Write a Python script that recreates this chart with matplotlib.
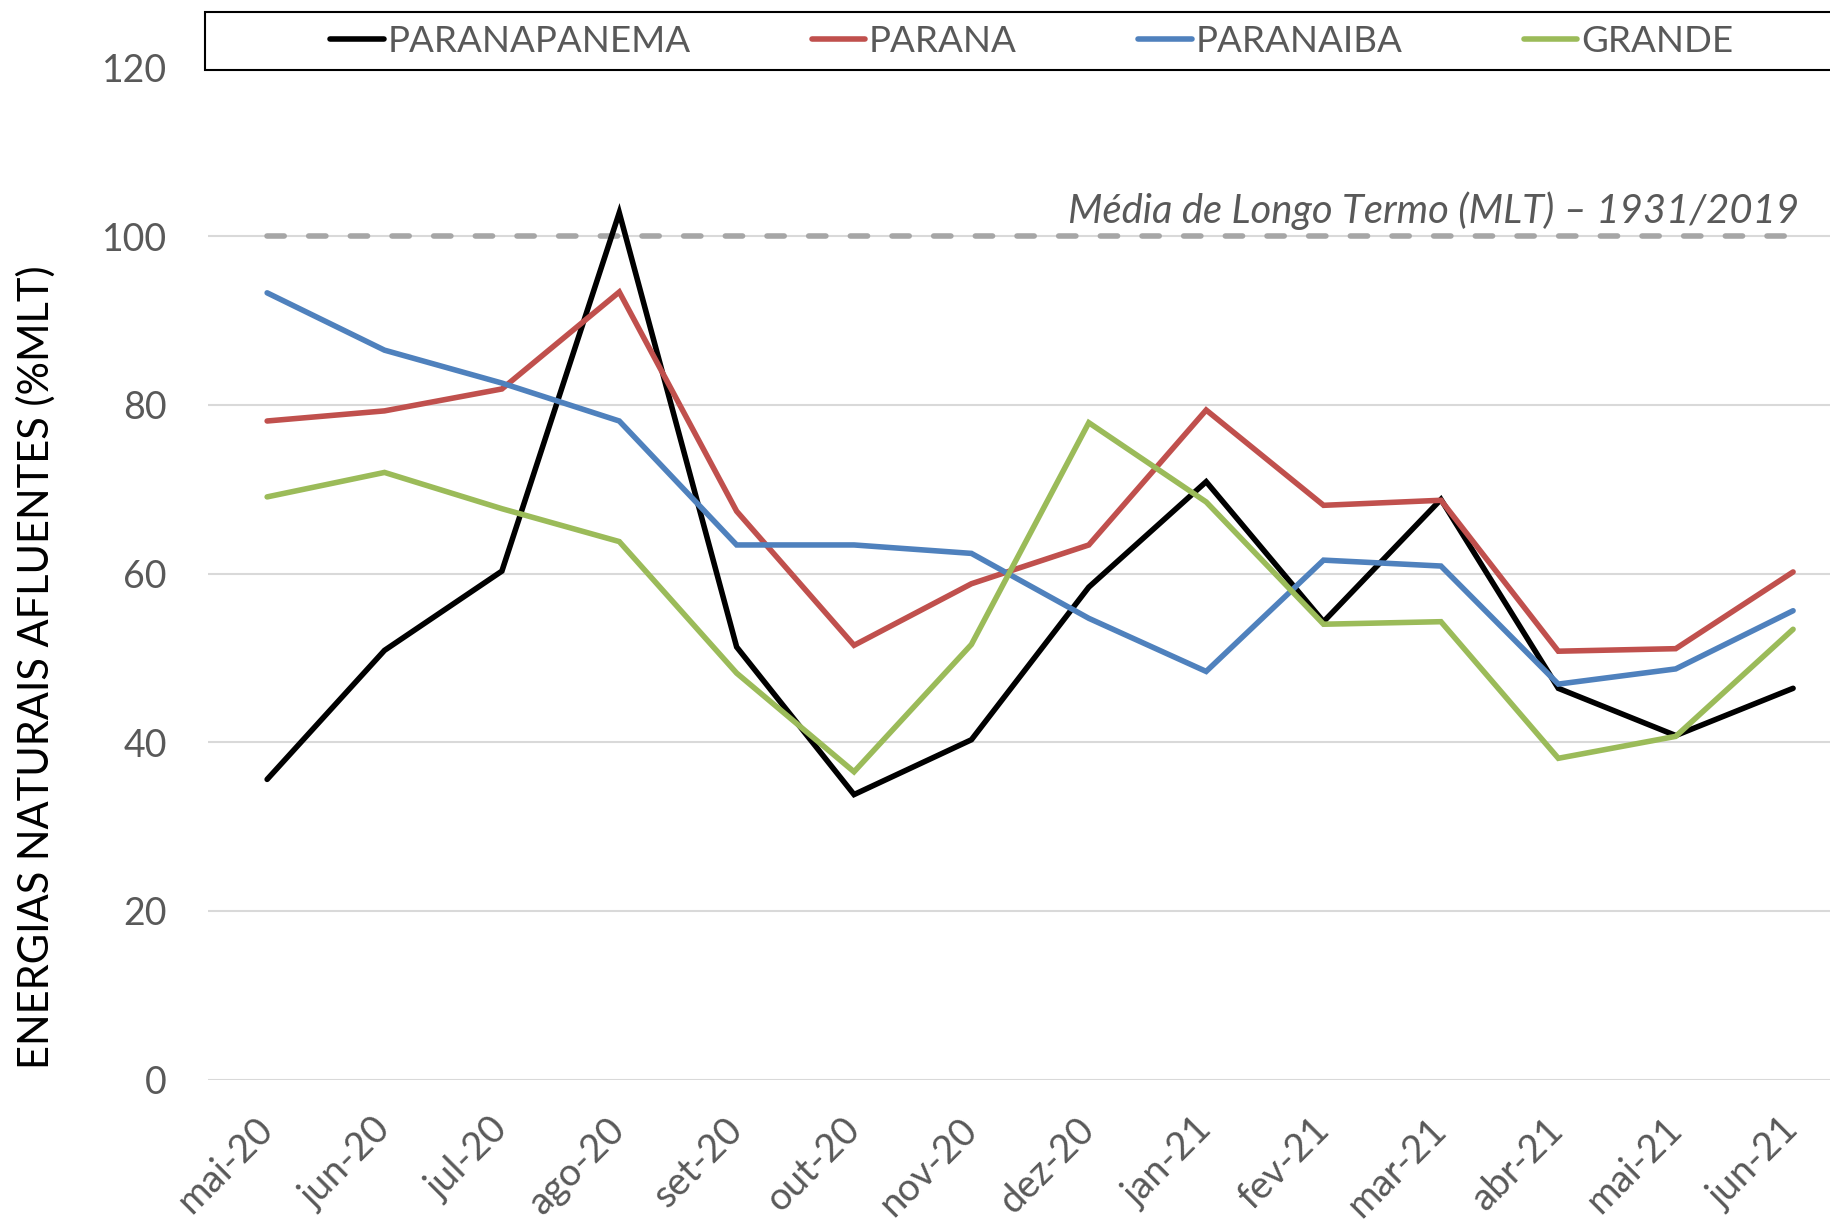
import matplotlib
matplotlib.use("Agg")
import matplotlib.pyplot as plt
from matplotlib.patches import Rectangle

months = ["mai-20", "jun-20", "jul-20", "ago-20", "set-20", "out-20", "nov-20",
          "dez-20", "jan-21", "fev-21", "mar-21", "abr-21", "mai-21", "jun-21"]
paranapanema = [35.6, 50.9, 60.3, 102.8, 51.3, 33.8, 40.3, 58.4, 70.9, 54.3, 68.8, 46.4, 40.8, 46.4]
parana = [78.1, 79.3, 81.9, 93.4, 67.4, 51.5, 58.8, 63.4, 79.4, 68.1, 68.7, 50.8, 51.1, 60.2]
paranaiba = [93.3, 86.5, 82.6, 78.1, 63.4, 63.4, 62.4, 54.7, 48.4, 61.6, 60.9, 46.9, 48.7, 55.6]
grande = [69.1, 72.0, 67.7, 63.8, 48.2, 36.5, 51.6, 77.9, 68.5, 54.0, 54.3, 38.1, 40.7, 53.4]
mlt = [100] * len(months)
yticks = [0, 20, 40, 60, 80, 100, 120]
mlt_label = "Média de Longo Termo (MLT) – 1931/2019"

plt.rcParams['font.family'] = ['Lato', 'DejaVu Sans']
GRAY = "#595959"

fig = plt.figure(figsize=(18.3, 12.24), dpi=100)
ax = fig.add_axes([0.1139, 0.118, 0.898, 0.8267])

x = list(range(len(months)))
lw = 4.0
ax.plot(x, mlt, color="#A6A6A6", lw=lw, dashes=(3.1, 4.4), dash_capstyle='round', zorder=2)
series = [("PARANAPANEMA", paranapanema, "#000000"),
          ("PARANA", parana, "#C0504D"),
          ("PARANAIBA", paranaiba, "#4F81BD"),
          ("GRANDE", grande, "#9BBB59")]
handles = []
for name, vals, col in series:
    h, = ax.plot(x, vals, color=col, lw=lw, label=name, zorder=3,
                 solid_joinstyle='miter', solid_capstyle='round')
    handles.append(h)

ax.set_xlim(-0.5, 13.5)
ax.set_ylim(0, 120)
ax.set_yticks(yticks)
ax.set_yticklabels([str(v) for v in yticks])
ax.set_xticks(x)
ax.set_xticklabels(months, rotation=45, ha='right', va='center', rotation_mode='anchor')
ax.grid(axis='y', color="#D9D9D9", lw=1.5, zorder=0)
ax.set_axisbelow(True)
for s in ax.spines.values():
    s.set_visible(False)
ax.tick_params(axis='both', length=0, colors=GRAY)
ax.tick_params(axis='y', pad=30, labelsize=27)
ax.tick_params(axis='x', pad=32, labelsize=27.5)

ax.set_ylabel("ENERGIAS NATURAIS AFLUENTES (%MLT)", fontsize=30, color="black")
ax.yaxis.set_label_coords(-0.093, 0.408)

ax.text(13.05, 103.1, mlt_label, ha='right', va='center', fontsize=28.8,
        style='italic', color=GRAY, zorder=4)

# legend frame
rect = Rectangle((205 / 1830, 1 - 70 / 1224), 1.2, 58 / 1224, transform=fig.transFigure,
                 facecolor='white', edgecolor='black', lw=1.5, zorder=5)
fig.patches.append(rect)
leg = fig.legend(handles=handles, loc='center', ncol=4, frameon=False,
                 bbox_to_anchor=(884 * 1.167 / 1830, 1 - 41 / 1224),
                 fontsize=26.5, handlelength=1.45, handletextpad=0.1, columnspacing=3.3,
                 labelcolor=GRAY)
leg.set_zorder(6)

fig.savefig("out.png", dpi=100)
